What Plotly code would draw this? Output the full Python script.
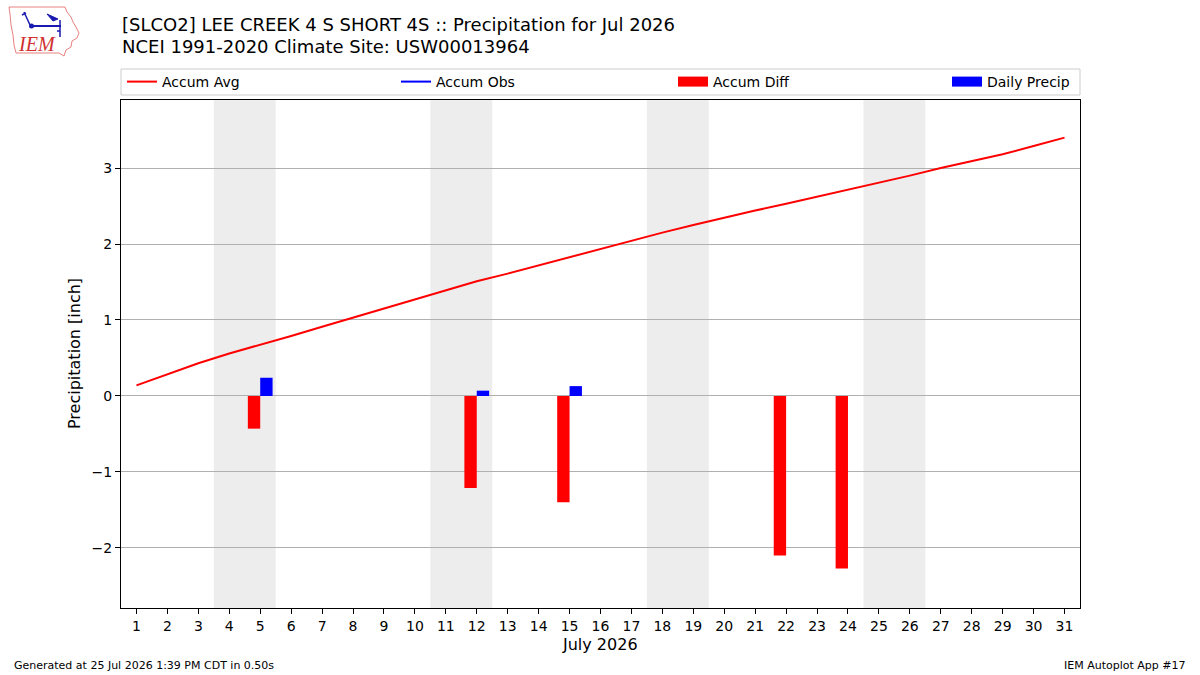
import datetime
import plotly.graph_objects as go

# ---------------- data ----------------
days = list(range(1, 32))
accum_avg = [0.14, 0.29, 0.43, 0.56, 0.67, 0.79, 0.91, 1.03, 1.15, 1.27,
             1.40, 1.51, 1.61, 1.72, 1.83, 1.94, 2.05, 2.15, 2.25, 2.35,
             2.44, 2.53, 2.62, 2.71, 2.81, 2.90, 3.00, 3.09, 3.18, 3.29, 3.40]
diff_days = [5, 12, 15, 22, 24]
accum_diff = [-0.43, -1.21, -1.40, -2.10, -2.27]
precip_days = [5, 12, 15]
daily_precip = [0.24, 0.07, 0.13]
year, month = 2026, 7
weekend_sats = [d for d in days if datetime.date(year, month, d).weekday() == 5]

W, H = 1200, 675
L, R, T, B = 121, 1080, 100, 608


def px(x):
    return (x - L) / (R - L)


def py(y):
    return (B - y) / (B - T)


FONT = "DejaVu Sans"
fig = go.Figure()

fig.add_trace(go.Scatter(x=days, y=accum_avg, mode="lines", name="Accum Avg",
                         line=dict(color="red", width=2), legend="legend"))
fig.add_trace(go.Scatter(x=[None], y=[None], mode="lines", name="Accum Obs",
                         line=dict(color="blue", width=2), legend="legend2"))
fig.add_trace(go.Bar(x=diff_days, y=accum_diff, offset=-0.4, width=0.4,
                     marker=dict(color="red", line=dict(width=0)),
                     showlegend=False, name="Accum Diff"))
fig.add_trace(go.Bar(x=precip_days, y=daily_precip, offset=0.0, width=0.4,
                     marker=dict(color="blue", line=dict(width=0)),
                     showlegend=False, name="Daily Precip"))
# legend proxies for bars
fig.add_trace(go.Scatter(x=[None], y=[None], mode="lines", name="Accum Diff",
                         line=dict(color="red", width=10), legend="legend3"))
fig.add_trace(go.Scatter(x=[None], y=[None], mode="lines", name="Daily Precip",
                         line=dict(color="blue", width=10), legend="legend4"))

shapes = []
for s in weekend_sats:
    shapes.append(dict(type="rect", xref="x", yref="paper", x0=s - 0.5, x1=s + 1.5,
                       y0=0, y1=1, fillcolor="#EDEDED", line=dict(width=0),
                       layer="below"))
# legend frame
shapes.append(dict(type="rect", xref="paper", yref="paper", x0=px(121), x1=px(1080),
                   y0=py(95), y1=py(69), line=dict(color="#cccccc", width=1),
                   fillcolor="rgba(0,0,0,0)"))
# simple IEM logo
iowa = [(9, 7), (65, 7), (67, 12), (71, 17), (73, 22), (76, 27), (79, 33), (77, 38),
        (72, 41), (71, 47), (66, 50), (64, 56), (59, 53), (16, 53), (14, 45), (13, 35),
        (11, 25), (10, 14)]
path = "M " + " L ".join(f"{px(a):.5f},{py(b):.5f}" for a, b in iowa) + " Z"
shapes.append(dict(type="path", xref="paper", yref="paper", path=path,
                   line=dict(color="#e88080", width=1)))
BLUE = "#1a1ab0"
shapes.append(dict(type="line", xref="paper", yref="paper", x0=px(31), x1=px(61),
                   y0=py(26), y1=py(26), line=dict(color=BLUE, width=2)))
shapes.append(dict(type="line", xref="paper", yref="paper", x0=px(24), x1=px(30),
                   y0=py(12), y1=py(25), line=dict(color=BLUE, width=1.5)))
shapes.append(dict(type="line", xref="paper", yref="paper", x0=px(22), x1=px(26),
                   y0=py(15), y1=py(13), line=dict(color=BLUE, width=1.5)))
shapes.append(dict(type="circle", xref="paper", yref="paper", x0=px(29), x1=px(34),
                   y0=py(28.5), y1=py(23.5), fillcolor=BLUE, line=dict(width=0)))
shapes.append(dict(type="path", xref="paper", yref="paper",
                   path=(f"M {px(47):.5f},{py(14):.5f} L {px(58):.5f},{py(19):.5f} "
                         f"L {px(53):.5f},{py(21):.5f} Z"),
                   fillcolor=BLUE, line=dict(color=BLUE, width=1)))
shapes.append(dict(type="line", xref="paper", yref="paper", x0=px(60), x1=px(60),
                   y0=py(20), y1=py(37), line=dict(color=BLUE, width=1.5)))
shapes.append(dict(type="line", xref="paper", yref="paper", x0=px(57), x1=px(60),
                   y0=py(31), y1=py(31), line=dict(color=BLUE, width=1.5)))

annotations = [
    dict(text="[SLCO2] LEE CREEK 4 S SHORT 4S :: Precipitation for Jul 2026",
         xref="paper", yref="paper", x=px(120), y=py(24), xanchor="left", yanchor="middle",
         showarrow=False, font=dict(family=FONT, size=18, color="black")),
    dict(text="NCEI 1991-2020 Climate Site: USW00013964",
         xref="paper", yref="paper", x=px(120), y=py(47), xanchor="left", yanchor="middle",
         showarrow=False, font=dict(family=FONT, size=18, color="black")),
    dict(text="Precipitation [inch]", xref="paper", yref="paper", x=px(74), y=py(354),
         xanchor="center", yanchor="middle", textangle=-90, showarrow=False,
         font=dict(family=FONT, size=16, color="black")),
    dict(text="July 2026", xref="paper", yref="paper", x=px(600), y=py(644),
         xanchor="center", yanchor="middle", showarrow=False,
         font=dict(family=FONT, size=16, color="black")),
    dict(text="Generated at 25 Jul 2026 1:39 PM CDT in 0.50s", xref="paper", yref="paper",
         x=px(12), y=py(665), xanchor="left", yanchor="middle", showarrow=False,
         font=dict(family=FONT, size=11, color="black")),
    dict(text="IEM Autoplot App #17", xref="paper", yref="paper",
         x=px(1188), y=py(665), xanchor="right", yanchor="middle", showarrow=False,
         font=dict(family=FONT, size=11, color="black")),
    dict(text="<i>IEM</i>", xref="paper", yref="paper", x=px(37), y=py(44),
         xanchor="center", yanchor="middle", showarrow=False,
         font=dict(family="Liberation Serif", size=20, color="#d03030")),
]


def leg(xpix):
    return dict(orientation="h", x=xpix / W, xref="container", xanchor="left",
                y=1 - 82 / H, yref="container", yanchor="middle",
                bgcolor="rgba(0,0,0,0)", borderwidth=0,
                font=dict(family=FONT, size=14, color="black"))


fig.update_layout(
    width=W, height=H, autosize=False,
    margin=dict(l=L, r=W - R, t=T, b=H - B, pad=0, autoexpand=False),
    paper_bgcolor="white", plot_bgcolor="white",
    barmode="overlay", showlegend=True,
    legend=leg(122), legend2=leg(396), legend3=leg(673), legend4=leg(947),
    shapes=shapes, annotations=annotations,
    font=dict(family=FONT, size=14, color="black"),
    xaxis=dict(range=[0.5, 31.5], tickmode="array", tickvals=days,
               ticks="outside", ticklen=5, tickcolor="black", showgrid=False,
               showline=True, linecolor="black", linewidth=1, mirror=True,
               zeroline=False, tickfont=dict(family=FONT, size=14)),
    yaxis=dict(range=[-2.79, 3.895], tickmode="linear", tick0=0, dtick=1,
               ticks="outside", ticklen=5, tickcolor="black", showgrid=True,
               gridcolor="#b0b0b0", gridwidth=1,
               showline=True, linecolor="black", linewidth=1, mirror=True,
               zeroline=False, tickfont=dict(family=FONT, size=14)),
)

fig.write_html("out.html")
